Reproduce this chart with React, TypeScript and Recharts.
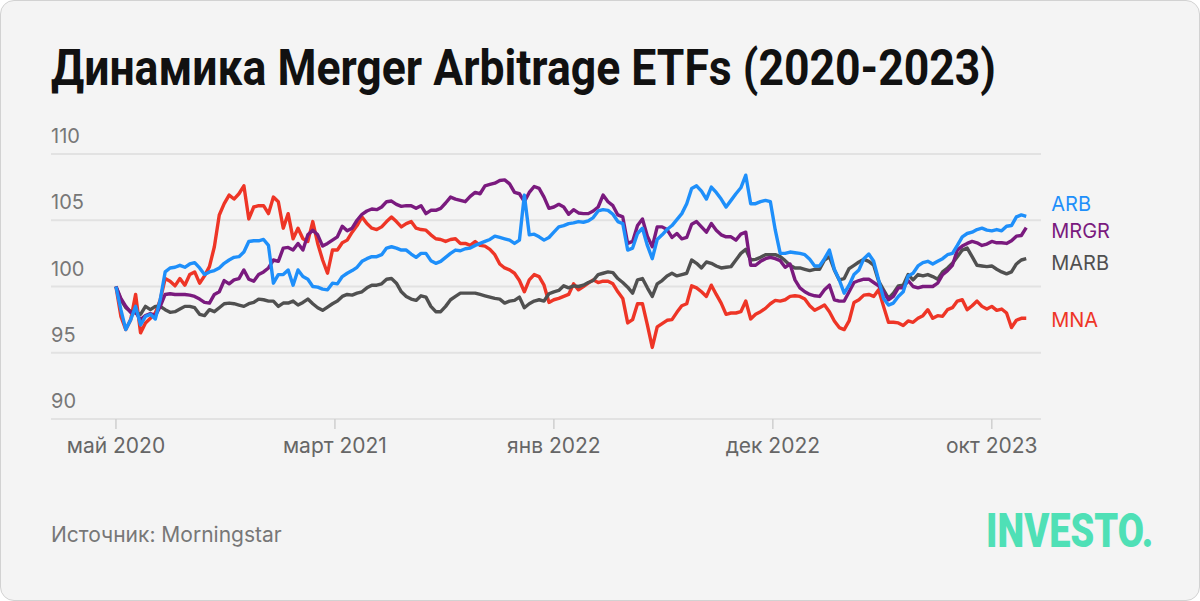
import React, { useLayoutEffect, useRef, useState } from 'react'
import { LineChart, Line, XAxis, YAxis, CartesianGrid } from 'recharts'

// weekly closes, rebased to 100, May 2020 -> Nov 2023
const arb = [
  100, 98.25, 96.75, 97.5, 98.5, 97.1, 97.75, 97.9, 97.55, 99,
  101.1, 101.4, 101.45, 101.6, 101.45, 101.7, 101.8, 101.4, 100.9, 101.1,
  101.2, 101.4, 101.75, 102, 102.2, 102.25, 102.6, 103.4, 103.45, 103.45,
  103.55, 103.1, 100.25, 100.9, 100.9, 101.25, 100.1, 101.25, 100.75, 100.55,
  100, 99.95, 99.8, 99.75, 100.25, 100.2,
  100.75, 101, 101.2, 101.45, 101.9, 102.1, 102.25, 102.25, 102.4, 102.9,
  103, 102.9, 102.75, 102.75, 102.45, 102.2, 102.5, 102.5, 101.95, 101.75,
  101.9, 102.2, 102.5, 102.75, 102.7, 102.85, 102.9, 103.1, 103.25, 103.4,
  103.55, 103.8, 103.7, 103.6, 103.5, 103.25, 103.5, 106.9, 103.9, 103.95,
  103.75, 103.5, 103.7, 104.1, 104.5, 104.6, 104.75,
  104.8, 104.9, 104.85, 104.95, 105.2, 105.7, 105.8, 105.75, 105.45, 104.9,
  104.75, 102.75, 102.9, 104, 104.4, 103.1, 102.1, 103.55, 103.9, 104.3,
  104.6, 105.05, 105.5, 106.25, 107.4, 107.6, 107.2, 106.6, 107.5, 107.1,
  106.6, 106, 106.5, 107, 107.45, 108.4, 106.25, 106.25, 106.4, 106.5,
  106.4, 104.25, 102.5, 102.5, 102.6, 102.55, 102.5,
  102.4, 102.05, 101.55, 101.55, 102.1, 102.75, 101.3, 100.5, 99.5, 100.1,
  100.9, 101.25, 102.1, 102.45, 101.9, 100.5, 99.1, 98.6, 98.75, 99.25,
  99.6, 100.8, 101, 101.55, 101.8, 101.9, 101.7, 101.9, 102.1, 102.4,
  102.5, 103.1, 103.75, 104, 104.1, 104.3, 104.4, 104.25, 104.2, 104.3,
  104.2, 104.55, 104.6, 105.25, 105.4, 105.3,
]

const mrgr = [
  100, 99.1, 98.5, 98.05, 98.05, 97.5, 97.8, 97.95, 97.8, 98.5,
  99.4, 99.45, 99.4, 99.4, 99.4, 99.35, 99.25, 99.05, 98.8, 98.75,
  99.4, 99.6, 100.45, 100.2, 100.5, 100.6, 101.25, 100.55, 100.4, 100.9,
  101.1, 101.4, 102, 101.9, 102.9, 102.95, 102.75, 103.25, 102.75, 103.9,
  104.25, 103.9, 103.05, 103.25, 103.5, 103.75,
  104.55, 104.2, 104.4, 105, 105.45, 105.7, 105.85, 105.8, 106, 106.4,
  106.45, 106.2, 106.05, 106.1, 106.1, 105.9, 106.1, 105.5, 105.75, 105.75,
  105.9, 106.3, 106.75, 106.6, 106.5, 106.4, 106.8, 107.1, 107, 107.6,
  107.7, 107.8, 108, 108.05, 107.75, 107.1, 107, 106.4, 107.1, 107.55,
  107.4, 106.75, 105.9, 106, 106.2, 106, 105.45,
  105.8, 105.55, 105.5, 105.5, 105.7, 106, 106.9, 106.4, 106.1, 105.4,
  105.25, 103.25, 103.4, 104.6, 105.1, 103.8, 103, 104.5, 104.5, 104.3,
  103.7, 104, 103.6, 103.7, 104.7, 104.9, 104.5, 104.1, 104.75, 104.25,
  103.9, 103.75, 103.75, 103.5, 103.95, 104.1, 101.6, 101.6, 101.9, 102.1,
  102.2, 102.1, 101.95, 101.45, 101.7, 100.5, 99.9,
  99.6, 99.4, 99.3, 99.25, 99.75, 100.1, 99, 98.9, 98.9, 99.6,
  100.3, 100.45, 100.55, 100.55, 100.3, 100.05, 99.6, 99, 99.25, 99.9,
  99.9, 100.45, 100, 99.9, 100, 100, 100, 100.25, 100.9, 101.2,
  101.6, 102.75, 103.05, 103.25, 103.4, 103.3, 103.1, 103.2, 103.4, 103.3,
  103.3, 103.25, 103.45, 103.8, 103.85, 104.45,
]

const marb = [
  100, 99, 98.4, 98.1, 98, 97.9, 98.5, 98.25, 98.5, 98.5,
  98.25, 98.05, 98.1, 98.3, 98.5, 98.5, 98.4, 97.9, 97.8, 98.25,
  98.1, 98.4, 98.7, 98.75, 98.7, 98.6, 98.5, 98.7, 98.8, 99.05,
  99, 98.9, 98.9, 98.5, 98.75, 98.75, 98.9, 98.6, 98.8, 99.05,
  98.7, 98.4, 98.2, 98.45, 98.7, 98.9,
  99.25, 99.4, 99.35, 99.5, 99.6, 99.9, 100.1, 100.1, 100.2, 100.55,
  100.6, 100.25, 99.6, 99.25, 99.05, 98.95, 99.3, 99.2, 98.5, 98.1,
  98.1, 98.5, 99, 99.25, 99.5, 99.5, 99.5, 99.5, 99.4, 99.3,
  99.2, 99.1, 99.05, 98.75, 98.9, 98.95, 99.2, 98.4, 98.7, 98.9,
  99, 98.9, 99.45, 99.6, 99.7, 100.05, 99.9,
  100.05, 100, 100.1, 100.3, 100.45, 100.9, 101, 101.1, 101.05, 100.6,
  100.3, 99.95, 99.5, 100.5, 100.6, 99.9, 99.25, 100.2, 100.45, 100.8,
  101, 100.8, 100.9, 101, 102, 101.75, 101.4, 101.85, 101.75, 101.55,
  101.4, 101.45, 101.5, 102, 102.5, 102.8, 102, 102.05, 102.2, 102.4,
  102.4, 102.4, 102.25, 101.95, 101.6, 101.4, 101.4,
  101.3, 101.2, 101.3, 101.3, 102, 102.25, 101.25, 100.5, 100.6, 101.35,
  101.6, 101.85, 102.05, 101.9, 101.6, 100.4, 99.75, 99.1, 99.5, 100.05,
  100.1, 100.9, 100.5, 100.9, 100.8, 100.9, 100.75, 100.55, 101.1, 101.4,
  101.75, 102.25, 102.75, 102.9, 102.25, 101.6, 101.55, 101.5, 101.55, 101.3,
  101.1, 100.95, 101.1, 101.7, 102, 102.1,
]

const mna = [
  100, 97.75, 96.75, 97.5, 99.4, 96.5, 97.25, 97.6, 98, 99,
  100.6, 100.4, 100.05, 100.6, 100.1, 100.9, 101.1, 100.25, 100.8, 101.5,
  103, 105.4, 106.25, 106.9, 106.6, 107, 107.6, 105.1, 106, 106.1,
  106.1, 105.5, 106.75, 106.4, 104.4, 105.5, 103.6, 104.4, 103.6, 103.4,
  104.9, 103.25, 102, 101, 102.75, 102.75,
  103.3, 103.5, 104.1, 104.6, 105.25, 104.75, 104.4, 104.3, 104.5, 104.9,
  105.25, 104.9, 104.5, 104.75, 104.9, 104.4, 104.3, 104.25, 103.9, 103.6,
  103.55, 103.4, 103.55, 103.6, 103.25, 103.25, 103.1, 103.4, 103.1, 103.05,
  102.8, 102.4, 101.7, 101.4, 101.25, 101, 100.45, 99.6, 100.5, 100.9,
  100.75, 100.1, 98.8, 99, 99.1, 99.25, 99.4,
  100.2, 99.75, 100, 100.25, 100.5, 100.3, 100.4, 100.4, 100.2, 99.6,
  99.1, 97.25, 97.5, 98.7, 98.7, 97.1, 95.4, 96.95, 97.2, 97.45,
  97.5, 98.05, 98.55, 98.7, 100.05, 99.9, 99.6, 99.25, 100.1, 99.4,
  98.75, 97.9, 98, 98, 98.1, 98.9, 97.55, 97.9, 98.1, 98.35,
  98.7, 98.95, 98.9, 99, 99.25, 99.3, 99.25,
  99.05, 98.55, 98.2, 98.4, 98.6, 98.1, 97.4, 96.9, 96.75, 97.4,
  98.8, 99, 99.35, 99.4, 99.25, 99.75, 98.5, 97.3, 97.3, 97.25,
  97.05, 97.4, 97.3, 97.6, 97.8, 98.25, 97.6, 97.8, 97.75, 98.25,
  98.4, 98.9, 99, 98.25, 98.55, 98.9, 98.5, 98.3, 98.5, 98.2,
  98.3, 98, 96.9, 97.45, 97.6, 97.6,
]

const tickWeeks = [0, 44.5, 89, 133.5, 178]
const tickLabels = ['май 2020', 'март 2021', 'янв 2022', 'дек 2022', 'окт 2023']
const yTicks = [90, 95, 100, 105, 110]

const series = [
  { key: 'mna', name: 'MNA', color: '#ee3526', dy: 1 },
  { key: 'marb', name: 'MARB', color: '#505050', dy: 4 },
  { key: 'mrgr', name: 'MRGR', color: '#7a1a7e', dy: 3 },
  { key: 'arb', name: 'ARB', color: '#1e8ffa', dy: -12 },
]

const data = arb.map((v, i) => ({ w: i, arb: v, mrgr: mrgr[i], marb: marb[i], mna: mna[i] }))

const FONT = 'Roboto, "Noto Sans", sans-serif'
const SMALL = 'Inter, Roboto, sans-serif'

// squeeze a text to a target width
const Fitted = ({ text, width, style }: { text: string; width: number; style: React.CSSProperties }) => {
  const ref = useRef<HTMLSpanElement>(null)
  const [sx, setSx] = useState(1)
  useLayoutEffect(() => {
    if (ref.current) setSx(width / ref.current.offsetWidth)
  }, [text, width])
  return (
    <span ref={ref} style={{ ...style, display: 'inline-block', whiteSpace: 'nowrap', transform: `scaleX(${sx})`, transformOrigin: 'left top' }}>
      {text}
    </span>
  )
}

const renderYTick = (props: any) => (
  <text x={50} y={props.y - 11} fill="#777" fontSize={20} fontFamily={SMALL}>{props.payload.value}</text>
)

const endLabel = (s: typeof series[number]) => (props: any) => {
  const { x, y, index } = props
  if (index !== data.length - 1) return null
  return (
    <text x={x + 25} y={y + s.dy} dy="0.36em" fill={s.color} fontSize={20} fontFamily={SMALL}>{s.name}</text>
  )
}

const App = () => {
  return (
    <div style={{
      position: 'absolute', left: 0, top: 0, width: 1200, height: 601, boxSizing: 'border-box',
      background: '#f4f4f4', border: '1px solid #d2d2d2', borderRadius: 14, overflow: 'hidden', fontFamily: FONT,
    }}>
      <div style={{ position: 'absolute', left: 50, top: 42, lineHeight: 1 }}>
        <Fitted text="Динамика Merger Arbitrage ETFs (2020-2023)" width={945}
          style={{ fontSize: 50, fontWeight: 700, color: '#111', lineHeight: 1 }} />
      </div>

      <div style={{ position: 'absolute', left: 0, top: 0 }}>
        <LineChart width={1200} height={480} data={data} margin={{ top: 153, right: 160, bottom: 22, left: 49 }}>
          <CartesianGrid vertical={false} stroke="#e2e2e2" strokeWidth={2} />
          <XAxis dataKey="w" type="number" domain={[-13.2, 188]} ticks={tickWeeks} interval={0}
            tickFormatter={(t: number) => tickLabels[tickWeeks.indexOf(t)] ?? ''}
            axisLine={false} tickLine={{ stroke: '#cfcfcf', strokeWidth: 1.5 }} tickSize={10} tickMargin={9}
            height={40} tick={{ fill: '#666', fontSize: 21, fontFamily: SMALL }} />
          <YAxis domain={[90, 110]} ticks={yTicks} width={1} axisLine={false} tickLine={false} tick={renderYTick} />
          {series.map(s => (
            <Line key={s.key} dataKey={s.key} type="linear" stroke={s.color} strokeWidth={3.4} dot={false}
              strokeLinejoin="round" isAnimationActive={false} label={endLabel(s)} />
          ))}
        </LineChart>
      </div>

      <div style={{ position: 'absolute', left: 50, top: 523, fontSize: 21, color: '#777', lineHeight: 1, fontFamily: SMALL }}>
        Источник: Morningstar
      </div>
      <div style={{ position: 'absolute', left: 985, top: 506, lineHeight: 1 }}>
        <Fitted text="INVESTO." width={167} style={{ fontSize: 48, fontWeight: 900, color: '#4fe0b6', lineHeight: 1 }} />
      </div>
    </div>
  )
}

export default App
